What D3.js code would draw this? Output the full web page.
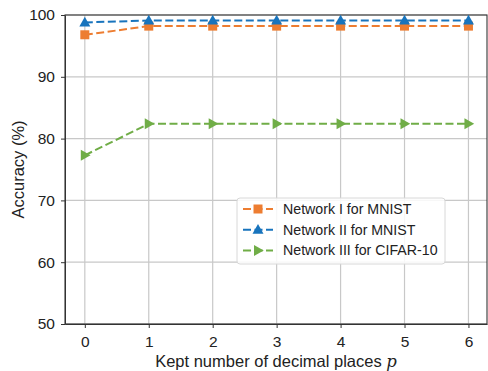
<!DOCTYPE html>
<html>
<head>
<meta charset="utf-8">
<script src="https://cdn.jsdelivr.net/npm/d3@7"></script>
<style>
  body { margin: 0; background: #fff; }
  svg { display: block; font-family: "Liberation Sans", Arial, sans-serif; }
</style>
</head>
<body>
<div id="chart"></div>
<script>
// data
var places   = [0, 1, 2, 3, 4, 5, 6];
var netI     = [96.8, 98.2, 98.2, 98.2, 98.2, 98.2, 98.2];
var netII    = [98.8, 99.1, 99.1, 99.1, 99.1, 99.1, 99.1];
var netIII   = [77.3, 82.4, 82.4, 82.4, 82.4, 82.4, 82.4];
var yTicks   = [50, 60, 70, 80, 90, 100];
var seriesNames = ['Network I for MNIST', 'Network II for MNIST', 'Network III for CIFAR-10'];

var width = 488, height = 371;
var margin = { left: 65, right: 1, top: 15, bottom: 47 };

var svg = d3.select('#chart').append('svg')
  .attr('width', width)
  .attr('height', height);

var x = d3.scaleLinear().domain([-0.31, 6.29]).range([margin.left, width - margin.right]);
var y = d3.scaleLinear().domain([50, 100]).range([height - margin.bottom, margin.top]);

// grid
var grid = svg.append('g').attr('stroke', '#c8c8c8').attr('stroke-width', 1.2);
grid.selectAll('.gx').data(places).enter().append('line')
  .attr('x1', function(d) { return x(d); }).attr('x2', function(d) { return x(d); })
  .attr('y1', y(50)).attr('y2', y(100));
grid.selectAll('.gy').data(yTicks).enter().append('line')
  .attr('y1', function(d) { return y(d); }).attr('y2', function(d) { return y(d); })
  .attr('x1', x.range()[0]).attr('x2', x.range()[1]);

// axes
var xAxis = svg.append('g')
  .attr('transform', 'translate(0,' + y(50) + ')')
  .call(d3.axisBottom(x).tickValues(places).tickFormat(d3.format('d'))
    .tickSize(4).tickPadding(8).tickSizeOuter(0));
var yAxis = svg.append('g')
  .attr('transform', 'translate(' + margin.left + ',0)')
  .call(d3.axisLeft(y).tickValues(yTicks).tickSize(4).tickPadding(6).tickSizeOuter(0));
[xAxis, yAxis].forEach(function(a) {
  a.selectAll('text').attr('font-size', 15.5).attr('fill', '#222')
    .style('font-family', '"Liberation Sans", Arial, sans-serif');
  a.selectAll('line').attr('stroke', '#333');
  a.select('.domain').attr('stroke', '#333');
});

// frame
svg.append('rect')
  .attr('x', x.range()[0]).attr('y', y(100))
  .attr('width', x.range()[1] - x.range()[0]).attr('height', y(50) - y(100))
  .attr('fill', 'none').attr('stroke', '#333').attr('stroke-width', 1.1);

var series = [
  { name: seriesNames[0], values: netI,   color: '#ED7D31', marker: 'square' },
  { name: seriesNames[1], values: netII,  color: '#1874BD', marker: 'up' },
  { name: seriesNames[2], values: netIII, color: '#70AD47', marker: 'right' }
];

function markerPath(type, s) {
  if (type === 'square') {
    var q = s * 0.9;
    return 'M' + (-q) + ',' + (-q) + 'H' + q + 'V' + q + 'H' + (-q) + 'Z';
  }
  if (type === 'up') return 'M0,' + (-s * 1.15) + 'L' + (s * 1.1) + ',' + (s * 0.8) + 'L' + (-s * 1.1) + ',' + (s * 0.8) + 'Z';
  return 'M' + (s * 1.15) + ',0L' + (-s * 0.8) + ',' + (-s * 1.1) + 'L' + (-s * 0.8) + ',' + (s * 1.1) + 'Z';
}

var line = d3.line()
  .x(function(d, i) { return x(places[i]); })
  .y(function(d) { return y(d); });

series.forEach(function(s) {
  svg.append('path')
    .datum(s.values)
    .attr('d', line)
    .attr('fill', 'none')
    .attr('stroke', s.color)
    .attr('stroke-width', 2)
    .attr('stroke-dasharray', '8,3.5');
  svg.selectAll(null).data(s.values).enter().append('path')
    .attr('transform', function(d, i) { return 'translate(' + x(places[i]) + ',' + y(d) + ')'; })
    .attr('d', markerPath(s.marker, 5))
    .attr('fill', s.color);
});

// legend
var lg = svg.append('g').attr('transform', 'translate(237,198)');
lg.append('rect')
  .attr('width', 208).attr('height', 66).attr('rx', 3)
  .attr('fill', '#fff').attr('fill-opacity', 0.85)
  .attr('stroke', '#d8d8d8');
series.forEach(function(s, i) {
  var row = lg.append('g').attr('transform', 'translate(0,' + (11 + i * 20.7) + ')');
  row.append('line')
    .attr('x1', 6).attr('x2', 36).attr('y1', 0).attr('y2', 0)
    .attr('stroke', s.color).attr('stroke-width', 2)
    .attr('stroke-dasharray', '8,3.5');
  row.append('path')
    .attr('transform', 'translate(21,0)')
    .attr('d', markerPath(s.marker, 5))
    .attr('fill', s.color);
  row.append('text')
    .attr('x', 46).attr('y', 0).attr('dy', '0.35em')
    .attr('font-size', 14.2).attr('fill', '#222')
    .text(s.name);
});

// axis labels
var xl = svg.append('text')
  .attr('x', (x.range()[0] + x.range()[1]) / 2).attr('y', 367)
  .attr('text-anchor', 'middle').attr('font-size', 16.5).attr('fill', '#222');
xl.append('tspan').text('Kept number of decimal places ');
xl.append('tspan').attr('font-style', 'italic').attr('font-family', '"DejaVu Serif", serif').text('p');

svg.append('text')
  .attr('transform', 'translate(24,' + ((y(50) + y(100)) / 2) + ') rotate(-90)')
  .attr('text-anchor', 'middle').attr('font-size', 16.5).attr('fill', '#222')
  .text('Accuracy (%)');
</script>
</body>
</html>
